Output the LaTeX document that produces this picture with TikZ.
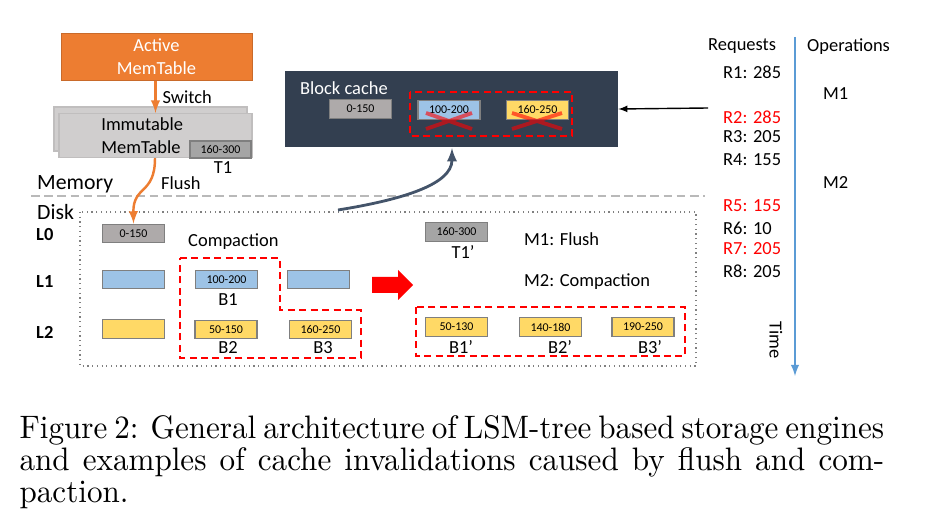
\documentclass[tikz,border=0pt]{standalone}
\usepackage{fontspec}
\newfontfamily\calib{Carlito}
\usetikzlibrary{arrows}
\definecolor{lsmorange}{HTML}{ED7D31}
\definecolor{lsmgray}{HTML}{AEAAAA}
\definecolor{lsmdark}{HTML}{A5A5A5}
\definecolor{lsmedge}{HTML}{7F7F7F}
\definecolor{lsmblue}{HTML}{9DC3E6}
\definecolor{lsmyellow}{HTML}{FFD966}
\definecolor{lsmnavy}{HTML}{333F50}
\definecolor{lsmslate}{HTML}{44546A}
\definecolor{lsmtime}{HTML}{5B9BD5}
\definecolor{lsmlight}{HTML}{D0CECE}
\begin{document}
\begin{tikzpicture}[x=0.02cm,y=-0.02cm,
    every node/.style={font=\calib\fontsize{10.5}{13}\selectfont},
    sst/.style={draw=lsmedge, line width=0.8pt, minimum width=1.24cm, minimum height=0.37cm, inner sep=0pt, font=\calib\fontsize{6.8}{7}\selectfont},
    immbox/.style={fill=lsmlight, draw=lsmlight!80!gray, line width=0.8pt, minimum width=3.86cm, minimum height=0.88cm},
    redbox/.style={draw=red, line width=1.2pt, dash pattern=on 4pt off 2.5pt},
    cross/.style={red, opacity=0.6, line width=2.2pt}]
  \useasboundingbox (0,0) rectangle (927,523);
  % memory
  \node[fill=lsmorange, draw=lsmorange!85!black, minimum width=3.82cm, minimum height=0.88cm, align=center, text=white] at (156.5,57) (active) {Active\\MemTable};
  \node[immbox] at (150.5,129) (immback) {};
  \node[immbox] at (155.5,135.5) (imm) {};
  \node[anchor=west, align=left, inner sep=0pt] at (101,136) (immtext) {Immutable\\MemTable};
  \node[sst, fill=lsmdark, minimum width=1.22cm, minimum height=0.34cm] at (220.5,149.5) (t1) {160-300};
  \node at (223,168) (t1lab) {T1};
  \draw[lsmorange, line width=1.4pt, -latex] (active.south -| imm.north) -- node[right, text=black] {Switch} (imm.north);
  \node[anchor=west] at (155,183) (flushlab) {Flush};
  \node[anchor=west, font=\calib\fontsize{12.4}{14}\selectfont] at (31,184) (memory) {Memory};
  \node[anchor=west, font=\calib\fontsize{12.4}{14}\selectfont] at (31,212) (disk) {Disk};
  \draw[gray!55, line width=1.4pt, dash pattern=on 5pt off 2.5pt] (31,196) -- (705,196);
  % disk
  \draw[gray, dotted, line width=0.7pt] (80,212) rectangle (696,366);
  \node[anchor=west, font=\calib\bfseries\fontsize{10.5}{13}\selectfont] at (30,235) (l0) {L0};
  \node[anchor=west, font=\calib\bfseries\fontsize{10.5}{13}\selectfont] at (30,282) (l1) {L1};
  \node[anchor=west, font=\calib\bfseries\fontsize{10.5}{13}\selectfont] at (30,332) (l2) {L2};
  \node[sst, fill=lsmgray] at (133.5,233.5) (l0a) {0-150};
  \node[sst, fill=lsmblue] at (133.5,279.5) (l1a) {};
  \node[sst, fill=lsmblue] at (226.5,279.5) (b1) {100-200};
  \node[sst, fill=lsmblue] at (318.5,279.5) (l1c) {};
  \node[sst, fill=lsmyellow] at (133.5,329) (l2a) {};
  \node[sst, fill=lsmyellow] at (226,329.5) (b2) {50-150};
  \node[sst, fill=lsmyellow] at (320.5,329.5) (b3) {160-250};
  \node at (228,300) (b1lab) {B1};
  \node at (228,348) (b2lab) {B2};
  \node at (323,348) (b3lab) {B3};
  \node[anchor=west] at (182,242) (compaction) {Compaction};
  \draw[redbox] (180,258) -- (280,258) -- (280,310) -- (361,310) -- (361,358) -- (180,358) -- cycle;
  \fill[red] (372,277) -- (398,277) -- (398,270) -- (413,285) -- (398,300) -- (398,293) -- (372,293) -- cycle;
  \draw[lsmorange, line width=1.4pt, -latex] (imm.south -| 155,0) .. controls (155,195) and (133,185) .. (l0a.north);
  \node[sst, fill=lsmdark] at (456.5,232) (t1p) {160-300};
  \node at (463,252) (t1plab) {T1’};
  \node[anchor=west] at (518,239) (m1text) {M1: Flush};
  \node[anchor=west] at (518,282) (m2text) {M2: Compaction};
  \draw[redbox] (416,307) rectangle (685,356);
  \node[sst, fill=lsmyellow] at (456.5,327) (b1p) {50-130};
  \node[sst, fill=lsmyellow] at (550.5,327) (b2p) {140-180};
  \node[sst, fill=lsmyellow] at (643,327) (b3p) {190-250};
  \node at (461,347) (b1plab) {B1’};
  \node at (560,347) (b2plab) {B2’};
  \node at (650,347) (b3plab) {B3’};
  % block cache
  \node[fill=lsmnavy, minimum width=6.66cm, minimum height=1.52cm] at (451.5,109) (cache) {};
  \node[anchor=west, text=white] at (294,88) (cachelab) {Block cache};
  \node[sst, fill=lsmgray] at (360.5,109) (c0) {0-150};
  \node[sst, fill=lsmblue] at (449,110) (c1) {100-200};
  \node[sst, fill=lsmyellow] at (537.5,110) (c2) {160-250};
  \draw[redbox] (410,92) rectangle (572,136);
  \draw[cross] (426,113) -- (472,129) (426,129) -- (472,113);
  \draw[cross] (512,113) -- (562,129) (512,129) -- (562,113);
  \coordinate (cstart) at (338,210);
  \coordinate (cend) at (452,148);
  \draw[lsmslate, line width=1.6pt, -latex] (cstart) .. controls (400,200) and (452,185) .. (cend);
  \coordinate (reqend) at (708,108);
  \draw[-latex, line width=0.8pt] (reqend) -- (cache.east);
  % requests and operations
  \node[anchor=west] at (702,46) (requests) {Requests};
  \node[anchor=west] at (717,72) (r1) {R1: 285};
  \node[anchor=west, text=red] at (717,117) (r2) {R2: 285};
  \node[anchor=west] at (717,137) (r3) {R3: 205};
  \node[anchor=west] at (717,160) (r4) {R4: 155};
  \node[anchor=west, text=red] at (717,206) (r5) {R5: 155};
  \node[anchor=west] at (717,228) (r6) {R6: 10};
  \node[anchor=west, text=red] at (717,249) (r7) {R7: 205};
  \node[anchor=west] at (717,271) (r8) {R8: 205};
  \node[anchor=west] at (801,47) (operations) {Operations};
  \node[anchor=west] at (817,94) (m1) {M1};
  \node[anchor=west] at (817,183) (m2) {M2};
  \coordinate (ttop) at (795,37);
  \coordinate (tbot) at (795,376);
  \draw[lsmtime, line width=1.2pt, -latex] (ttop) -- (tbot);
  \node[rotate=-90] at (776,340) (time) {Time};
  % caption
  \node[anchor=north west, align=left, inner sep=0pt, xscale=1.77, yscale=1.85, transform shape, font=\normalfont\fontsize{10}{9.84}\selectfont] at (19,415) (caption)
    {\makebox[278pt][s]{Figure 2: General architecture of LSM-tree based storage engines}\\
     \makebox[278pt][s]{and examples of cache invalidations caused by flush and com-}\\
     paction.};
\end{tikzpicture}
\end{document}
